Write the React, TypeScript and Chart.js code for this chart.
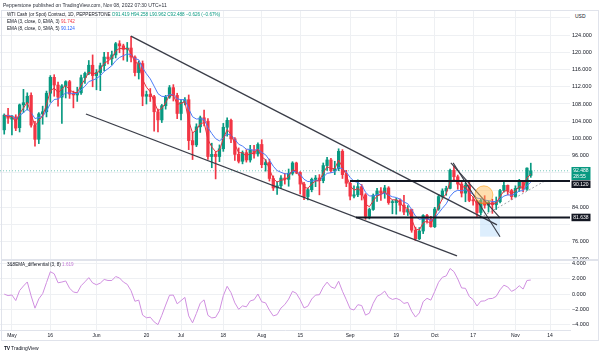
import React, { useEffect, useRef } from "react";
import { Chart, registerables } from "chart.js";

Chart.register(...registerables);

const FONT = '"Liberation Sans", Arial, sans-serif';
const INK = "#131722";
const GRID = "#eef0f3";
const UP = "#089981";
const DOWN = "#f23645";

// Daily candles (weekdays), index 0 = 28 Apr 2022 ... index 137 = 7 Nov 2022
const opens = [
  102.0, 105.4, 104.5, 105.0, 102.5, 107.8, 108.2, 110.0, 103.0, 99.8,
  105.7, 106.2, 110.5, 114.2, 112.4, 109.6, 112.2, 113.2, 110.3, 110.1,
  110.6, 114.1, 115.1, 117.0, 114.6, 115.3, 116.9, 118.9, 118.5, 119.4,
  122.0, 121.5, 120.7, 121.0, 118.9, 115.3, 117.4, 109.8, 110.2, 109.7,
  106.2, 104.3, 107.6, 109.6, 111.8, 110.0, 105.8, 108.4, 109.0, 99.5,
  98.5, 102.7, 104.8, 104.0, 95.8, 96.3, 95.8, 97.6, 102.6, 104.2,
  99.9, 96.3, 94.7, 96.7, 95.0, 97.3, 96.4, 98.6, 93.9, 94.4,
  90.7, 88.5, 89.0, 90.8, 90.5, 91.9, 94.3, 92.1, 89.4, 86.5,
  88.1, 90.5, 90.8, 90.2, 93.7, 95.0, 92.5, 93.0, 97.0, 91.6,
  89.6, 86.6, 86.9, 88.8, 86.9, 81.9, 83.5, 86.8, 87.8, 87.3,
  88.5, 85.1, 85.1, 85.7, 84.5, 82.9, 83.5, 78.7, 76.7, 78.5,
  82.1, 81.2, 79.5, 83.6, 86.5, 87.8, 88.4, 92.6, 91.1, 89.4,
  87.3, 89.1, 85.6, 85.5, 82.8, 85.6, 84.5, 85.1, 84.6, 85.3,
  87.9, 89.1, 87.9, 86.5, 88.4, 90.0, 88.2, 91.419,
];
const highs = [
  105.7, 107.0, 105.3, 105.5, 108.0, 111.4, 110.6, 110.6, 104.0, 106.0,
  107.5, 111.0, 114.6, 114.8, 113.1, 112.5, 113.4, 113.5, 111.0, 111.9,
  114.7, 115.4, 118.1, 119.4, 116.0, 117.5, 120.0, 120.0, 120.3, 122.3,
  122.7, 121.9, 122.3, 123.7, 119.2, 118.0, 118.0, 111.0, 111.6, 110.0,
  106.8, 107.9, 110.0, 112.3, 112.5, 110.5, 109.0, 109.5, 110.1, 101.4,
  103.4, 105.2, 106.6, 104.6, 98.9, 96.9, 98.5, 103.5, 104.8, 104.5,
  100.2, 97.8, 97.1, 97.4, 98.4, 98.4, 99.0, 99.7, 95.1, 95.2,
  91.3, 90.0, 91.4, 91.9, 92.9, 94.6, 94.5, 92.3, 89.8, 88.5,
  90.8, 91.4, 91.6, 94.3, 95.6, 95.4, 94.7, 97.6, 97.4, 92.6,
  89.8, 89.0, 90.4, 89.3, 87.2, 83.8, 87.1, 88.4, 88.6, 89.1,
  88.8, 85.7, 86.1, 86.0, 86.8, 84.4, 83.6, 79.4, 79.3, 82.3,
  82.4, 81.9, 84.0, 87.0, 88.3, 88.9, 92.9, 93.6, 91.5, 89.9,
  89.6, 89.8, 86.4, 85.6, 86.0, 86.7, 85.5, 85.9, 86.4, 88.2,
  89.9, 89.2, 88.2, 89.0, 90.5, 90.2, 93.2, 94.258,
];
const lows = [
  101.0, 103.5, 100.8, 101.8, 101.5, 106.0, 106.6, 102.6, 98.2, 98.8,
  103.3, 105.0, 108.4, 109.8, 107.5, 103.5, 109.4, 109.3, 107.1, 108.6,
  110.2, 112.8, 114.8, 112.0, 111.3, 111.1, 115.7, 117.3, 117.1, 118.7,
  119.9, 118.2, 117.9, 117.8, 114.5, 113.8, 107.6, 108.0, 108.6, 101.7,
  101.5, 103.7, 106.8, 109.3, 108.7, 104.6, 104.3, 107.8, 97.4, 95.1,
  98.1, 101.4, 102.9, 95.1, 93.2, 90.6, 94.6, 97.0, 100.5, 99.0,
  94.9, 94.3, 94.1, 94.5, 94.5, 95.4, 95.9, 93.2, 92.4, 90.1,
  87.9, 87.0, 88.4, 89.4, 88.9, 91.5, 91.8, 87.1, 85.8, 85.7,
  87.6, 88.8, 86.9, 89.7, 92.6, 92.1, 91.6, 92.5, 90.7, 88.8,
  85.7, 86.2, 86.5, 85.7, 81.2, 81.3, 83.3, 85.4, 85.6, 86.1,
  84.7, 82.5, 82.4, 83.1, 82.3, 82.1, 78.2, 76.3, 76.5, 77.9,
  80.3, 79.4, 79.3, 83.3, 85.9, 86.8, 88.3, 90.5, 88.2, 86.4,
  85.3, 85.3, 84.5, 81.9, 82.2, 83.8, 82.9, 82.6, 83.5, 85.0,
  87.5, 86.9, 85.8, 86.3, 87.7, 87.6, 87.9, 90.962,
];
const closes = [
  105.4, 104.7, 105.2, 102.4, 107.8, 108.3, 109.8, 103.1, 99.8, 105.7,
  106.2, 110.5, 114.2, 112.4, 109.6, 112.2, 113.2, 110.3, 110.1, 110.6,
  114.1, 115.1, 117.0, 114.6, 115.3, 116.9, 118.9, 118.5, 119.4, 122.0,
  121.5, 120.7, 121.0, 118.9, 115.3, 117.4, 109.8, 110.2, 109.7, 106.2,
  104.3, 107.6, 109.6, 111.8, 110.0, 105.8, 108.4, 109.0, 99.5, 98.5,
  102.7, 104.8, 104.0, 95.8, 96.3, 95.8, 97.6, 102.6, 104.2, 99.9,
  96.3, 94.7, 96.7, 95.0, 97.3, 96.4, 98.6, 93.9, 94.4, 90.7,
  88.5, 89.0, 90.8, 90.5, 91.9, 94.3, 92.1, 89.4, 86.5, 88.1,
  90.5, 90.8, 90.2, 93.7, 95.0, 92.5, 93.0, 97.0, 91.6, 89.6,
  86.6, 86.9, 88.8, 86.9, 81.9, 83.5, 86.8, 87.8, 87.3, 88.5,
  85.1, 85.1, 85.7, 84.5, 82.9, 83.5, 78.7, 76.7, 78.5, 82.1,
  81.2, 79.5, 83.6, 86.5, 87.8, 88.4, 92.6, 91.1, 89.4, 87.3,
  89.1, 85.6, 85.5, 82.8, 85.6, 84.5, 85.1, 84.6, 85.3, 87.9,
  89.1, 87.9, 86.5, 88.4, 90.0, 88.2, 93.114, 92.488,
];

// Time axis (trading-day index -> label)
const xTickIndex = [2, 12, 24, 37, 46, 57, 67, 77, 90, 102, 112, 122, 133, 142];
const xTickLabels = ["May", "16", "Jun", "20", "Jul", "18", "Aug", "15", "Sep", "19", "Oct", "17", "Nov", "14"];
const priceTicks = [72, 76, 80, 84, 88, 92, 96, 100, 104, 108, 112, 116, 120, 124, 128];
const indicatorTicks = [-4, -2, 0, 2, 4];

// Price levels / labels
const lastPrice = 92.488;
const resistance = 90.12;
const support = 81.638;
const countdown = "28:55";

// Drawings, in (bar index, price)
const channelUpper = [[32.97, 123.77], [128.2, 79.94]];
const channelLower = [[21.26, 105.68], [117.8, 72.75]];
const wedgeLineA = [[116.2, 94.32], [129.0, 81.57]];
const wedgeLineB = [[116.8, 94.32], [129.0, 77.16]];
const resistanceStart = 89.95;
const supportStart = 91.5;
const risingDotted = [[123.8, 81.57], [140.7, 90.14]];
const shadeX = [123.8, 129.0];
const shadeY = [81.57, 77.2];
const circleCenter = [124.8, 86.9];

const xMin = -1.1;
const xMax = 147.2;

function ema(src: number[], len: number): number[] {
  const a = 2 / (len + 1);
  const out: number[] = [];
  src.forEach((v, i) => out.push(i === 0 ? v : a * v + (1 - a) * out[i - 1]));
  return out;
}
const ema3 = ema(closes, 3);
const ema8 = ema(closes, 8);
const differential = ema3.map((v, i) => v - ema8[i]);

const pts = (arr: number[][]) => arr.map(([x, y]) => ({ x, y }));

const priceLabelPlugin = {
  id: "priceLabels",
  afterDraw(chart: any) {
    const ctx = chart.ctx;
    const ys = chart.scales.y;
    const left = chart.chartArea.right + 1.5;
    const labels = [
      { v: lastPrice, lines: [lastPrice.toFixed(3), countdown], bg: UP },
      { v: resistance, lines: [resistance.toFixed(3)], bg: INK },
      { v: support, lines: [support.toFixed(3)], bg: INK },
    ];
    let prevBottom = -1e9;
    ctx.save();
    labels.forEach((l) => {
      const y = ys.getPixelForValue(l.v);
      const h = l.lines.length * 5.5 + 2;
      const top = Math.max(y - 3.8, prevBottom + 0.5);
      ctx.fillStyle = l.bg;
      ctx.fillRect(left, top, 19, h);
      ctx.fillStyle = "#ffffff";
      ctx.font = `5px ${FONT}`;
      ctx.textBaseline = "middle";
      ctx.textAlign = "left";
      l.lines.forEach((t, k) => ctx.fillText(t, left + 1.8, top + 3.8 + k * 5.5));
      prevBottom = top + h;
    });
    ctx.restore();
  },
};

function xScale(showLabels: boolean) {
  return {
    type: "linear",
    min: xMin,
    max: xMax,
    offset: false,
    afterBuildTicks: (s: any) => {
      s.ticks = xTickIndex.map((v) => ({ value: v }));
    },
    afterFit: (s: any) => {
      s.height = showLabels ? 26 : 0;
      s.paddingLeft = 0;
      s.paddingRight = 0;
    },
    ticks: {
      display: showLabels,
      autoSkip: false,
      maxRotation: 0,
      padding: 3,
      color: INK,
      font: { size: 5, family: FONT },
      callback: (_v: any, i: number) => xTickLabels[i],
    },
    grid: { color: GRID, drawTicks: false, offset: false },
    border: { display: showLabels, color: "#e0e3eb" },
  };
}

export default function App() {
  const priceRef = useRef<HTMLCanvasElement | null>(null);
  const indRef = useRef<HTMLCanvasElement | null>(null);

  useEffect(() => {
    document.body.style.margin = "0";
    const line = (data: any[], color: string, width: number, order: number, extra: any = {}) => ({
      type: "line",
      data,
      borderColor: color,
      borderWidth: width,
      pointRadius: 0,
      fill: false,
      tension: 0,
      order,
      ...extra,
    });
    const candleColors = closes.map((c, i) => (c >= opens[i] ? UP : DOWN));

    const c1 = new Chart(priceRef.current as HTMLCanvasElement, {
      type: "bar",
      data: {
        datasets: [
          line([{ x: xMin, y: lastPrice }, { x: xMax, y: lastPrice }], "rgba(8,153,129,0.55)", 1, 20, { borderDash: [1, 2] }),
          line([{ x: shadeX[0], y: shadeY[0] }, { x: shadeX[1], y: shadeY[0] }], "rgba(0,0,0,0)", 0, 19, {
            fill: "+1",
            backgroundColor: "rgba(187,222,251,0.5)",
          }),
          line([{ x: shadeX[0], y: shadeY[1] }, { x: shadeX[1], y: shadeY[1] }], "rgba(0,0,0,0)", 0, 19),
          {
            type: "bar",
            data: closes.map((_c, i) => ({ x: i, y: [lows[i], highs[i]] })),
            backgroundColor: candleColors,
            barThickness: 1,
            grouped: false,
            order: 10,
          },
          {
            type: "bar",
            data: closes.map((c, i) => ({ x: i, y: [Math.min(opens[i], c), Math.max(opens[i], c)] })),
            backgroundColor: candleColors,
            barThickness: 2.6,
            minBarLength: 1,
            grouped: false,
            order: 9,
          },
          line(ema8.map((y, x) => ({ x, y })), "#4d7cf7", 1, 6),
          line(ema3.map((y, x) => ({ x, y })), "#e8313f", 1, 5),
          line(pts(channelUpper), "#3a3d48", 1.3, 3),
          line(pts(channelLower), "#3a3d48", 1.3, 3),
          line(pts(wedgeLineA), "#3a3d48", 1.1, 3),
          line(pts(wedgeLineB), "#3a3d48", 1.1, 3),
          line([{ x: resistanceStart, y: resistance }, { x: xMax, y: resistance }], INK, 2, 2),
          line([{ x: supportStart, y: support }, { x: xMax, y: support }], INK, 2, 2),
          line(pts(risingDotted), "#a0a3ab", 1, 2, { borderDash: [2, 2] }),
          {
            type: "bubble",
            data: [{ x: circleCenter[0], y: circleCenter[1], r: 9 }],
            backgroundColor: "rgba(255,183,77,0.45)",
            borderColor: "rgba(255,152,0,0.55)",
            borderWidth: 1,
            order: 1,
          },
        ] as any,
      },
      options: {
        responsive: false,
        animation: false,
        devicePixelRatio: 1,
        events: [],
        layout: { autoPadding: false, padding: { top: 11, bottom: 5, left: 0, right: 0 } },
        plugins: { legend: { display: false }, tooltip: { enabled: false } },
        scales: {
          x: xScale(false) as any,
          y: {
            type: "linear",
            position: "right",
            min: 72,
            max: 129.6,
            afterBuildTicks: (s: any) => {
              s.ticks = priceTicks.map((v) => ({ value: v }));
            },
            afterFit: (s: any) => {
              s.width = 32;
              s.paddingTop = 0;
              s.paddingBottom = 0;
            },
            ticks: {
              padding: 2,
              color: INK,
              font: { size: 5.5, family: FONT },
              callback: (v: any) => {
                const n = Number(v);
                const near = [lastPrice, resistance, support].some((p) => Math.abs(p - n) < 2.2);
                return near || n > 126 ? "" : n.toFixed(3);
              },
            },
            grid: { color: GRID, drawTicks: false },
            border: { display: false },
          },
        },
      } as any,
      plugins: [priceLabelPlugin],
    });

    const c2 = new Chart(indRef.current as HTMLCanvasElement, {
      type: "line",
      data: {
        datasets: [
          {
            data: differential.map((y, x) => ({ x, y })),
            borderColor: "#d08fe0",
            borderWidth: 1,
            pointRadius: 0,
            tension: 0,
            fill: false,
          },
        ],
      },
      options: {
        responsive: false,
        animation: false,
        devicePixelRatio: 1,
        events: [],
        layout: { autoPadding: false, padding: { top: 2, bottom: 0, left: 0, right: 0 } },
        plugins: { legend: { display: false }, tooltip: { enabled: false } },
        scales: {
          x: xScale(true) as any,
          y: {
            type: "linear",
            position: "right",
            min: -4.7,
            max: 4.34,
            afterBuildTicks: (s: any) => {
              s.ticks = indicatorTicks.map((v) => ({ value: v }));
            },
            afterFit: (s: any) => {
              s.width = 32;
              s.paddingTop = 0;
              s.paddingBottom = 0;
            },
            ticks: {
              padding: 2,
              color: INK,
              font: { size: 5.5, family: FONT },
              callback: (v: any) => {
                const n = Number(v);
                return (n < 0 ? "\u2212" : "") + Math.abs(n).toFixed(3);
              },
            },
            grid: { color: GRID, drawTicks: false },
            border: { display: false },
          },
        },
      } as any,
    });

    return () => {
      c1.destroy();
      c2.destroy();
    };
  }, []);

  const abs = (left: number, top: number, size: number, extra: any = {}) => ({
    position: "absolute" as const,
    left,
    top,
    fontSize: size,
    lineHeight: "6px",
    whiteSpace: "nowrap" as const,
    color: INK,
    ...extra,
  });

  return (
    <div
      style={{
        position: "fixed",
        left: 0,
        top: 0,
        width: 602,
        height: 356,
        background: "#ffffff",
        overflow: "hidden",
        fontFamily: FONT,
      }}
    >
      <div style={{ position: "absolute", left: 0, top: 0, width: 602, height: 264 }}>
        <canvas ref={priceRef} width={602} height={264} style={{ width: 602, height: 264, display: "block" }} />
      </div>
      <div style={{ position: "absolute", left: 0, top: 259, width: 602, height: 97, background: "#ffffff" }}>
        <canvas ref={indRef} width={602} height={97} style={{ width: 602, height: 97, display: "block" }} />
      </div>

      <div
        style={{
          position: "absolute",
          left: 1,
          top: 10,
          width: 598,
          height: 331,
          border: "1px solid #e0e3eb",
          boxSizing: "border-box",
          pointerEvents: "none",
        }}
      />
      <div style={{ position: "absolute", left: 1, top: 259, width: 598, height: 2, background: "#e0e3eb" }} />

      <div style={abs(3, 2, 5, { color: "#2a2e39" })}>
        Pepperstone published on TradingView.com, Nov 08, 2022 07:30 UTC+11
      </div>
      <div style={abs(7, 12, 4.6)}>
        WTI Cash (or Spot) Contract, 1D, PEPPERSTONE{" "}
        <span style={{ color: UP }}>O91.419 H94.258 L90.962 C92.488 −0.626 (−0.67%)</span>
      </div>
      <div style={abs(7, 19, 4.6)}>
        EMA (3, close, 0, EMA, 3) <span style={{ color: DOWN }}>91.742</span>
      </div>
      <div style={abs(7, 26, 4.6)}>
        EMA (8, close, 0, SMA, 5) <span style={{ color: "#2962ff" }}>90.124</span>
      </div>
      <div style={abs(7, 262, 4.6)}>
        3&amp;8EMA_differential (3, 8) <span style={{ color: "#c27ad6" }}>1.619</span>
      </div>
      <div style={abs(573, 13, 5, { background: "#ffffff", padding: "0 2px" })}>USD</div>
      <div style={abs(4, 345, 5)}>
        <span style={{ fontWeight: 900, letterSpacing: -0.3 }}>TV</span> TradingView
      </div>
    </div>
  );
}
